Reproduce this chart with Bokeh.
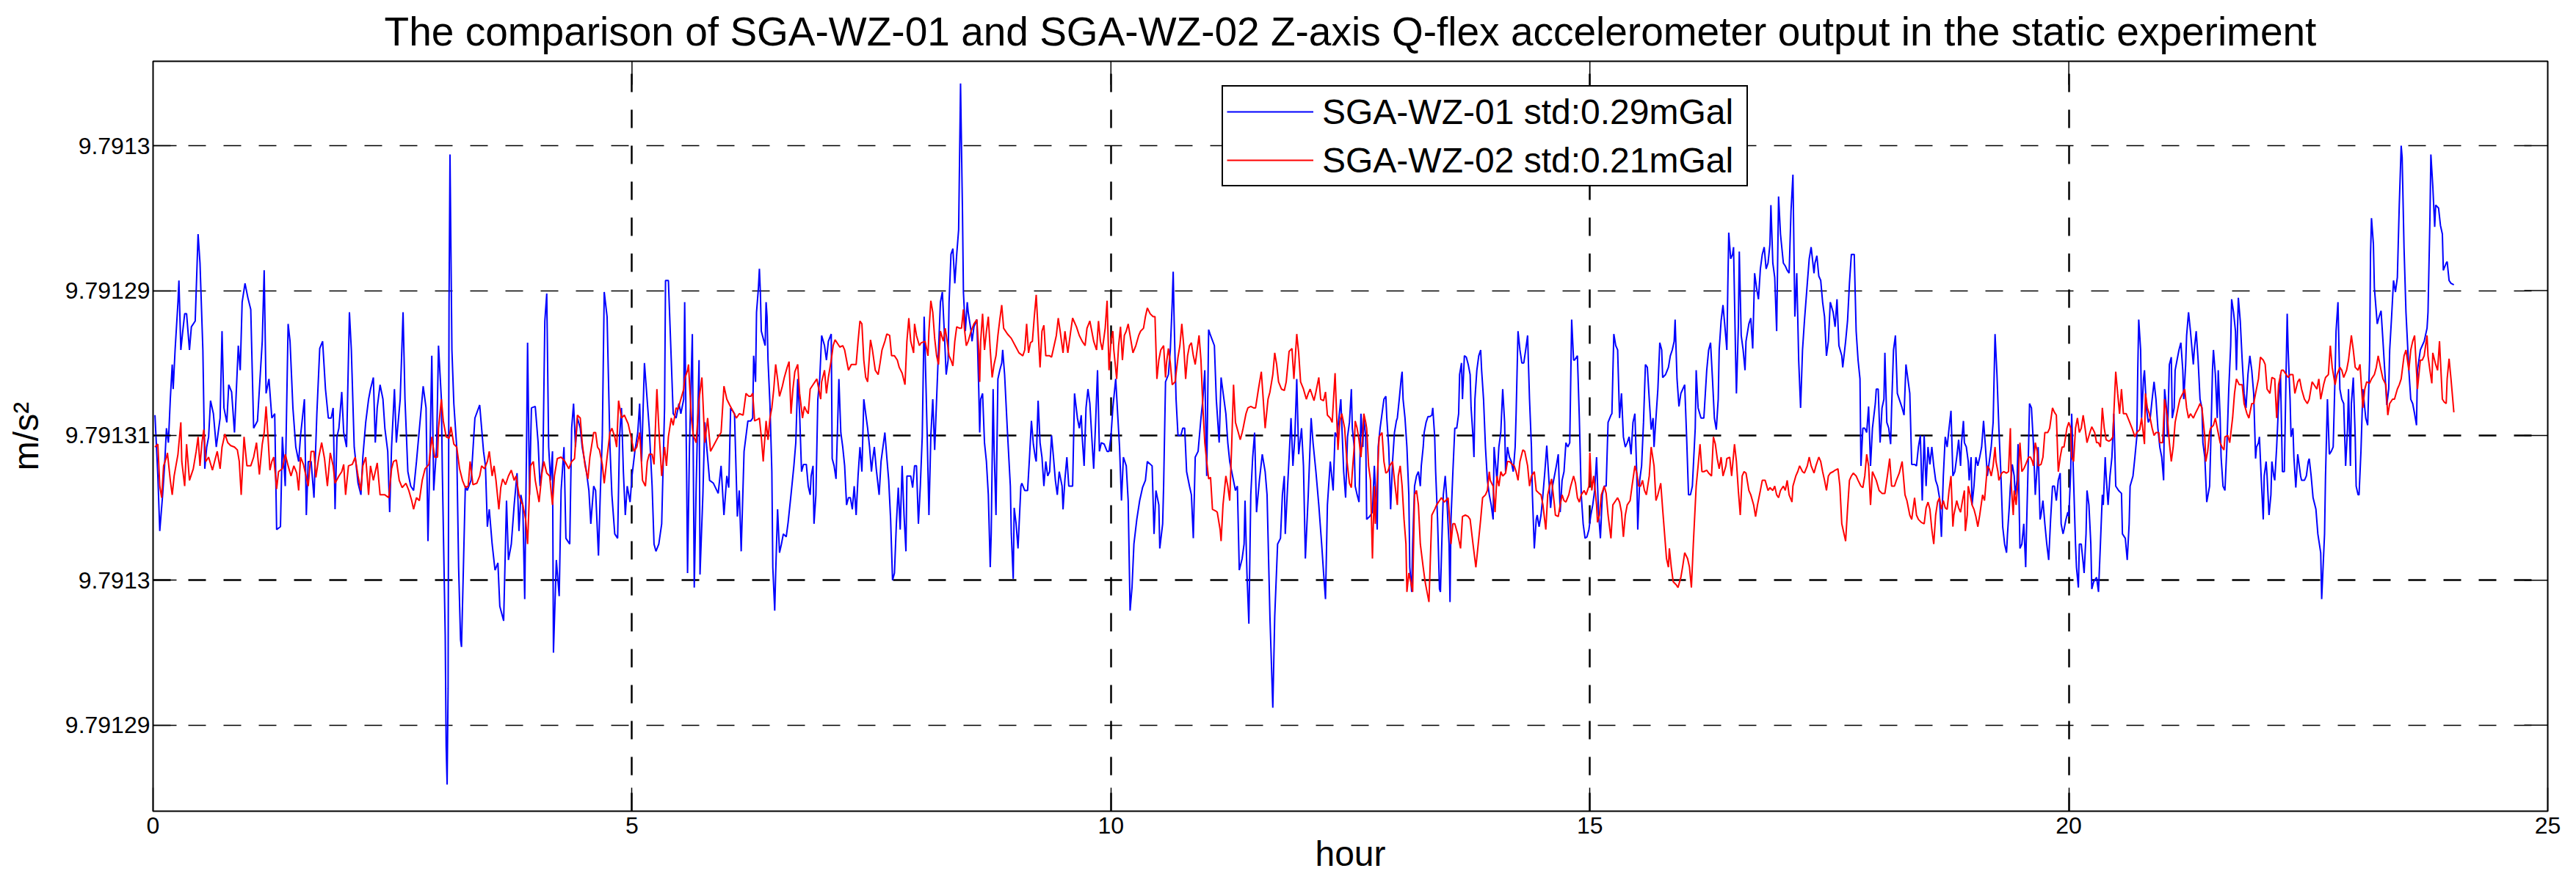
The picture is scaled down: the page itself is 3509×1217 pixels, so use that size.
import numpy as np
from bokeh.plotting import figure
from bokeh.models import Range1d, FixedTicker, Grid, Legend, LegendItem
from bokeh.embed import file_html
from bokeh.resources import INLINE

TITLE = "The comparison of SGA-WZ-01 and SGA-WZ-02 Z-axis Q-flex accelerometer output in the static experiment"
X_LABEL = "hour"
Y_LABEL = "m/s\u00b2"
SERIES_NAMES = ["SGA-WZ-01 std:0.29mGal", "SGA-WZ-02 std:0.21mGal"]
X_TICKS = [0, 5, 10, 15, 20, 25]
X_TICK_LABELS = ["0", "5", "10", "15", "20", "25"]
Y_TICKS = [-2, -1, 0, 1, 2]
Y_TICK_LABELS = ["9.79129", "9.7913", "9.79131", "9.79129", "9.7913"]
X_MIN, X_MAX = 0, 25
Y_MIN, Y_MAX = -2.594, 2.583

# Values: (time in 1/100 hour, deviation in 1/100 of one y-grid step)
blue_a = [(2,14),(5,-28),(7,-66),(10,-41),(12,-21),(14,5),(16,-5),(18,25),(20,49),(21,32),(23,59),(26,92),(27,107),(29,59),(31,72),(33,84),(35,84),(38,59),(40,75),(44,79),(47,139),(49,119),(52,59),(54,-23),(56,-8),(58,-1),(60,24),(63,15),(66,-8),(68,2),(70,12),(72,72),(74,19),(77,9),(79,35),(82,30),(85,2),(87,32),(89,62),(91,45),(93,92),(96,105),(99,95),(102,87),(105,5),(109,10),(111,32),(114,65),(116,114),(118,29),(121,39),(124,12),(127,15),(129,-65),(133,-63),(135,-1),(138,-35),(141,77),(143,65),(146,19),(149,-8),(152,-18),(154,0),(158,25),(160,-55),(162,-18),(165,-18),(168,-43),(171,15),(174,60),(177,65),(180,32),(183,12),(186,12),(188,19),(190,-51),(192,-1),(194,5),(197,30),(199,2),(202,-8),(205,85),(207,59),(210,-8),(214,-33),(217,-41),(219,-15),(222,9),(225,25),(227,32),(230,40),(232,-5),(234,19),(237,35),(240,25),(242,5),(245,-11),(247,-53),(249,-8),(252,32),(254,-5),(258,25),(261,85),(263,25),(266,-25),(269,-35),(272,-38),(275,-18),(280,19),(282,34),(285,19),(287,-73),(289,-15),(291,55),(293,-38),(296,-8),(298,62),(301,25),(302,-25),(305,-138),(306,-215),(307,-241),(308,-175),(309,92),(310,194),(312,59),(314,22),(317,-8),(319,-91),(321,-141),(322,-146),(324,-91),(326,-35),(328,-38),(332,-31),(336,12),(341,21),(343,5),(345,-11),(347,-21),(349,-63),(351,-51),(354,-75),(357,-93),(360,-88),(362,-118),(366,-128),(369,-45),(371,-86),(374,-75),(377,-48),(380,-26),(382,-66),(384,-41),(386,-48),(388,-113),(390,-1),(391,64),(393,-41),(395,19),(399,20),(402,-5),(404,-35),(407,-18),(409,79),(411,98),(413,-8),(415,-31),(417,-11),(418,-150),(421,-86),(424,-111),(426,-38),(429,-8),(431,-71),(435,-75),(437,5),(439,22),(441,-8),(443,12),(446,5),(448,-8),(452,-23),(455,-38),(457,-61),(460,-35),(462,-38),(465,-83),(467,-38),(469,-1),(471,99),(474,82),(477,-8),(479,-41),(482,-68),(485,-71),(487,-1),(489,19),(491,-25),(493,-55),(495,-35),(498,-46),(500,-28),(503,-11),(506,2),(508,22),(510,-18),(513,50),(515,32),(518,5),(521,-35),(523,-75),(525,-80),(528,-75),(531,-61),(534,19),(535,107),(538,107),(541,52),(543,15),(546,12),(549,22),(551,15),(554,25),(555,92),(557,-25),(558,-95),(560,-8),(562,45),(563,70),(565,-105),(567,-35),(570,52),(571,-96),(574,-41),(576,9),(578,-8),(581,-31),(585,-33),(590,-40),(593,-21),(596,-55),(599,-28),(601,-36),(603,19),(607,15),(610,-56),(612,-38),(614,-80),(617,-11),(621,10)]
blue_b = [(624,10),(626,12),(627,55),(629,37),(630,85),(632,102),(633,115),(634,99),(635,72),(637,67),(639,62),(640,92),(641,82),(642,52),(644,22),(646,-25),(647,-91),(649,-121),(650,-95),(652,-51),(654,-81),(656,-75),(658,-68),(661,-70),(663,-60),(666,-41),(669,-21),(671,-5),(673,39),(675,15),(677,-25),(679,-20),(682,-20),(684,-35),(686,-41),(687,-28),(689,-21),(690,-61),(692,-41),(694,25),(696,39),(698,69),(701,62),(703,52),(705,65),(708,70),(709,-16),(711,-21),(713,-30),(714,-8),(716,39),(718,2),(720,-8),(722,-21),(724,-48),(726,-43),(728,-43),(730,-51),(732,-35),(734,-55),(736,-28),(738,-8),(740,-25),(742,25),(744,15),(746,5),(748,-8),(750,-25),(751,-18),(753,-8),(755,-23),(758,-41),(760,-18),(762,-8),(764,2),(766,-15),(768,-31),(770,-58),(772,-100),(774,-95),(776,-61),(778,-36),(780,-65),(782,-21),(784,-55),(786,-80),(787,-28),(791,-28),(793,-36),(795,-21),(797,-21),(799,-61),(801,-35),(803,-1),(805,82),(806,59),(808,5),(810,-55),(812,0),(814,25),(816,-10),(818,25),(820,59),(822,92),(824,99),(826,72),(828,42),(830,52),(831,92),(833,125),(835,129),(837,105),(839,125),(841,142),(842,192),(843,243),(845,155),(846,99),(848,72),(850,92),(851,85),(854,72),(855,65),(857,75),(860,80),(862,32),(863,2),(864,25),(866,29),(868,-5),(870,-18),(872,-41),(874,-91),(875,-68),(877,32),(878,-8),(880,-55),(882,39),(884,45),(886,50),(887,59),(889,42),(892,2),(895,-35),(896,-68),(898,-99),(899,-50),(901,-61),(903,-78),(906,-35),(907,-33),(910,-38),(913,-38),(915,-15),(917,10),(919,-6),(921,-15),(922,-18),(924,24),(926,-5),(928,-15),(930,-35),(932,-18),(934,-28),(936,-25),(938,0),(940,-15),(942,-31),(944,-41),(946,-25),(949,-35),(950,-51),(952,-30),(954,-15),(956,-35),(960,-35),(962,29),(965,12),(967,5),(969,14),(970,-1),(972,-21),(974,19),(976,32),(978,22),(980,-1),(982,-23),(984,9),(986,45),(988,-11),(990,-5),(993,-6),(996,-11),(998,-11),(1000,-1),(1002,19),(1005,39),(1007,15),(1009,-8),(1011,-45),(1013,-15),(1016,-21),(1018,-45),(1020,-121),(1022,-105),(1024,-75),(1027,-58),(1030,-45),(1033,-36),(1036,-31),(1038,-18),(1043,-21),(1045,-68),(1047,-38),(1050,-48),(1051,-78),(1054,-61),(1055,-35),(1057,37),(1060,42),(1062,59),(1064,92),(1065,113),(1066,79),(1068,25),(1070,0),(1073,0),(1075,5),(1077,5),(1079,-25),(1082,-35),(1084,-41),(1086,-71),(1088,-15),(1091,-11),(1094,12),(1096,25),(1098,45),(1100,-28),(1102,73),(1104,69),(1108,62),(1110,25),(1113,-5),(1115,40),(1118,25),(1120,15),(1122,-5),(1124,-18),(1127,-28),(1130,-38),(1132,-35),(1134,-93),(1137,-85),(1139,-75),(1140,-45),(1142,-95),(1144,-130),(1146,-41),(1148,-15),(1150,2),(1152,-53),(1155,-31),(1158,-13),(1161,-25),(1163,-41),(1166,-125),(1169,-188),(1171,-125),(1174,-75),(1177,-71),(1179,-41),(1181,-28),(1182,-68),(1184,-41),(1186,-15),(1188,12),(1190,-21),(1192,-1),(1194,39),(1196,-13),(1199,5),(1201,-21),(1203,-85),(1206,-41),(1209,12),(1211,-5),(1214,-25),(1217,-48),(1220,-75),(1222,-95),(1224,-113),(1226,-48),(1229,-18),(1232,-38),(1234,2),(1236,-1),(1240,25),(1243,-25),(1245,-43),(1247,-1)]
blue_c = [(1249,9),(1251,32),(1252,5),(1254,-8),(1255,-35),(1257,-41),(1259,-46),(1261,15),(1263,-8),(1264,12),(1266,-1),(1267,-58),(1270,-56),(1271,-55),(1273,-53),(1275,-21),(1276,-35),(1278,-65),(1279,-8),(1281,5),(1283,15),(1285,25),(1287,27),(1288,12),(1290,-8),(1291,-28),(1292,-51),(1294,-18),(1296,2),(1298,10),(1299,12),(1301,25),(1303,39),(1304,44),(1305,25),(1307,12),(1309,-8),(1311,-41),(1312,-91),(1314,-108),(1315,-75),(1317,-35),(1319,-28),(1321,-25),(1323,-35),(1324,-21),(1326,-8),(1327,2),(1329,9),(1331,13),(1333,13),(1335,14),(1336,19),(1338,-1),(1339,-25),(1341,-58),(1343,-106),(1344,-108),(1346,-61),(1347,-41),(1349,-28),(1351,-48),(1353,-75),(1354,-115),(1355,-58),(1357,-25),(1359,5),(1361,5),(1363,15),(1364,42),(1366,50),(1367,25),(1369,55),(1371,54),(1373,49),(1375,42),(1376,19),(1378,-1),(1379,-15),(1380,25),(1382,45),(1384,55),(1386,59),(1387,45),(1389,25),(1391,-8),(1393,-31),(1395,-41),(1397,-48),(1399,-58),(1400,-8),(1403,-31),(1405,-8),(1407,2),(1409,32),(1411,9),(1412,-25),(1414,-8),(1416,-15),(1418,-18),(1420,-25),(1422,-8),(1423,15),(1425,72),(1427,59),(1429,50),(1431,50),(1433,59),(1435,69),(1437,25),(1439,-8),(1440,-41),(1442,-78),(1444,-58),(1445,-55),(1447,-63),(1449,-55),(1451,-41),(1453,-25),(1455,-7),(1457,-28),(1459,-50),(1461,-35),(1463,-28),(1465,-21),(1467,-13),(1469,-53),(1471,-31),(1473,-25),(1475,-5),(1477,-8),(1479,-5),(1481,80),(1483,52),(1484,52),(1487,55),(1489,12),(1491,-41),(1493,-61),(1495,-71),(1497,-70),(1499,-65),(1501,-55),(1503,-48),(1505,-38),(1507,-15),(1509,-53),(1511,-71),(1513,-41),(1515,-35),(1517,-35),(1519,9),(1522,14),(1523,15),(1525,70),(1527,62),(1529,59),(1531,12),(1533,29),(1535,-1),(1537,-8),(1539,-5),(1541,-1),(1543,-13),(1545,9),(1547,15),(1549,-28),(1550,-65),(1552,-31),(1554,-21),(1556,9),(1558,49),(1560,47),(1562,25),(1564,4),(1566,12),(1567,-8),(1569,12),(1571,32),(1573,64),(1575,59),(1576,40),(1579,42),(1582,47),(1584,55),(1586,59),(1588,65),(1589,80),(1591,39),(1593,20),(1595,29),(1597,32),(1599,35),(1601,-1),(1603,-41),(1605,-41),(1607,-35),(1610,5),(1611,45),(1613,19),(1616,12),(1619,12),(1622,45),(1624,59),(1626,64),(1628,39),(1630,12),(1632,4),(1634,25),(1635,59),(1637,79),(1639,90),(1641,75),(1643,59),(1644,102),(1645,140),(1647,122),(1649,125),(1650,130),(1652,59),(1653,29),(1655,75),(1656,127),(1658,69),(1660,59),(1662,45),(1663,65),(1666,77),(1668,81),(1670,60),(1672,112),(1674,102),(1676,94),(1678,115),(1680,125),(1682,130),(1684,115),(1686,119),(1688,132),(1689,159),(1691,119),(1693,109),(1695,72),(1697,165),(1699,139),(1702,119),(1704,117),(1706,114),(1708,112),(1710,155),(1712,180),(1714,82),(1716,112),(1718,52),(1720,19),(1722,59),(1724,79),(1727,105),(1729,122),(1731,130),(1734,112),(1735,119),(1737,124),(1739,110),(1741,107),(1743,92),(1745,82),(1747,55),(1749,65),(1751,92),(1754,85),(1756,75),(1758,94),(1760,62),(1763,55),(1764,47),(1767,65),(1769,79),(1771,105),(1773,125),(1776,125),(1778,72),(1780,52),(1782,39),(1783,-21),(1785,5),(1787,5),(1789,2),(1791,20),(1793,-21),(1795,5),(1798,22),(1799,32),(1801,32),(1803,-5),(1805,19),(1807,25),(1808,57),(1810,9),(1812,5),(1814,-6),(1815,19),(1817,59),(1819,69),(1821,29),(1823,25),(1826,19),(1828,14),(1830,49),(1832,39),(1834,29),(1836,-20),(1839,-20),(1841,-21),(1843,-8),(1845,0),(1847,-45),(1849,0),(1851,-35),(1853,-8),(1855,-20),(1857,-8),(1859,-21),(1861,-31),(1863,-35),(1865,-43),(1867,-70),(1869,-28),(1871,-1)]
blue_d = [(1873,-8),(1875,5),(1877,17),(1879,-28),(1881,-25),(1883,-15),(1885,-3),(1887,-21),(1888,-5),(1890,10),(1891,-5),(1893,-8),(1895,-18),(1896,-31),(1898,-15),(1899,-48),(1901,-35),(1903,-15),(1905,-21),(1907,-15),(1909,-8),(1911,10),(1913,-8),(1915,-28),(1917,-18),(1919,-8),(1921,9),(1923,70),(1925,42),(1927,5),(1929,-25),(1931,-63),(1933,-75),(1935,-81),(1936,-68),(1938,-48),(1939,-35),(1941,-20),(1943,-28),(1944,-41),(1946,-31),(1947,-6),(1949,-78),(1951,-75),(1953,-61),(1955,-91),(1956,-61),(1958,-8),(1959,22),(1961,19),(1963,-5),(1965,-41),(1967,-21),(1968,-8),(1970,-58),(1971,-55),(1973,-45),(1975,-61),(1977,-75),(1979,-86),(1981,-58),(1983,-35),(1985,-35),(1987,-45),(1989,-31),(1991,-26),(1992,-61),(1994,-68),(1995,-65),(1997,-58),(1999,-53),(2000,-56),(2002,-25),(2003,15),(2005,-31),(2007,-75),(2008,-91),(2010,-105),(2011,-75),(2013,-75),(2015,-88),(2016,-95),(2018,-68),(2019,-38),(2021,-48),(2023,-75),(2024,-106),(2026,-101),(2027,-100),(2029,-98),(2031,-108),(2033,-75),(2035,-41),(2036,-48),(2038,-15),(2039,-28),(2041,-48),(2043,-28),(2045,-15),(2047,15),(2049,-35),(2052,-38),(2055,-40),(2056,-68),(2059,-71),(2061,-86),(2063,-61),(2064,-35),(2067,-28),(2069,-15),(2071,-1),(2072,45),(2073,80),(2075,59),(2076,12),(2078,39),(2079,45),(2081,19),(2083,9),(2085,12),(2087,25),(2089,37),(2091,25),(2093,5),(2095,-8),(2097,-15),(2099,-31),(2100,32),(2102,19),(2103,-1),(2105,49),(2107,54),(2108,12),(2110,19),(2111,45),(2113,52),(2115,59),(2117,64),(2119,45),(2120,25),(2122,49),(2123,69),(2125,85),(2127,72),(2130,49),(2131,59),(2133,72),(2135,52),(2137,25),(2139,19),(2140,-5),(2142,-15),(2144,-46),(2147,-35),(2148,-11),(2150,45),(2151,59),(2153,42),(2155,12),(2156,45),(2158,12),(2159,-15),(2161,-35),(2163,-38),(2165,-8),(2167,32),(2169,62),(2170,94),(2172,85),(2174,72),(2175,45),(2177,95),(2179,79),(2181,52),(2183,29),(2185,19),(2187,42),(2189,55),(2191,45),(2193,29),(2195,-16),(2196,-8),(2198,-5),(2199,-1),(2201,-31),(2203,-58),(2204,-28),(2206,-18),(2207,-28),(2209,-55),(2211,-41),(2212,-18),(2214,-28),(2215,-31),(2217,-8),(2219,22),(2221,42),(2223,-25),(2225,-25),(2227,49),(2228,84),(2229,59),(2231,25),(2232,-1),(2234,5),(2235,-15),(2237,-36),(2239,-13),(2240,-18),(2242,-28),(2243,-31),(2246,-31),(2248,-28),(2250,-18),(2251,-16),(2253,-28),(2255,-43),(2258,-51),(2260,-68),(2263,-81),(2264,-113),(2267,-68),(2268,-28),(2270,25),(2272,-13),(2274,-11),(2276,-8),(2278,42),(2279,72),(2281,92),(2283,32),(2285,25),(2287,22),(2289,-21),(2291,5),(2292,32),(2294,-21),(2295,22),(2297,40),(2299,-1),(2300,-35),(2302,-41),(2303,-41),(2305,-11),(2307,32),(2310,12),(2312,7),(2314,52),(2315,125),(2316,150),(2318,132),(2319,102),(2322,77),(2324,82),(2326,86),(2328,65),(2331,32),(2332,21),(2334,32),(2335,59),(2337,82),(2339,107),(2341,99),(2343,109),(2345,159),(2347,200),(2348,192),(2350,129),(2352,85),(2355,45),(2357,25),(2359,22),(2361,15),(2363,7),(2364,45),(2367,59),(2369,62),(2371,65),(2374,74),(2375,85),(2377,149),(2378,194),(2380,172),(2382,144),(2383,159),(2386,157),(2388,145),(2390,139),(2391,114),(2394,119),(2395,120),(2397,107),(2399,105),(2402,104)]

red_a = [(2,-8),(5,-6),(7,-35),(9,-43),(11,-21),(14,-15),(15,-12),(18,-31),(20,-41),(22,-28),(26,-13),(29,9),(30,-18),(33,-35),(35,-6),(38,-31),(42,-23),(45,-11),(47,-1),(49,-21),(51,-5),(53,4),(55,-18),(58,-15),(62,-24),(65,-16),(67,-11),(70,-23),(72,-8),(75,1),(78,-5),(81,-7),(85,-8),(88,-10),(90,-18),(92,-41),(95,-1),(98,-21),(102,-21),(105,-15),(108,-5),(111,-27),(114,-6),(116,2),(118,20),(120,-1),(122,-24),(124,-18),(126,-15),(129,-37),(131,-25),(135,-23),(138,-13),(141,-21),(144,-28),(147,-21),(150,-26),(152,-38),(154,-15),(157,-20),(159,-26),(162,-35),(165,-11),(168,-11),(170,-29),(173,-15),(176,-5),(179,-16),(182,-35),(185,-12),(188,-21),(190,-33),(194,-28),(197,-25),(199,-20),(201,-41),(204,-21),(208,-20),(211,-15),(214,-28),(217,-38),(219,-21),(222,-15),(225,-41),(227,-21),(230,-31),(234,-19),(237,-41),(242,-41),(246,-43),(249,-23),(251,-18),(254,-17),(257,-31),(260,-36),(264,-33),(267,-38),(270,-45),(272,-51),(275,-43),(278,-45),(281,-31),(284,-23),(288,-20),(291,-1),(294,-15),(297,-15),(298,5),(301,25),(303,10),(306,-1),(309,-2),(311,6),(314,-6),(317,-8),(320,-23),(323,-31),(326,-36),(329,-35),(331,-18),(334,-34),(338,-33),(341,-28),(343,-21),(346,-23),(349,-18),(351,-11),(354,-28),(356,-21),(358,-31),(361,-51),(363,-36),(365,-30),(368,-34),(371,-28),(374,-24),(377,-31),(379,-28),(382,-41),(384,-45),(386,-48),(389,-58),(391,-75),(394,-21),(397,-18),(399,-31),(403,-46),(406,-26),(408,-18),(411,-26),(414,-28),(417,-48),(419,-28),(422,-16),(426,-15),(430,-18),(434,-23),(437,-18),(440,-16),(443,14),(446,12),(448,-5),(451,-21),(454,-30),(456,-15),(460,2),(462,2),(464,-8),(466,-10),(469,-20),(471,-33),(474,-15),(477,2),(479,5),(482,-1),(484,-8),(486,24),(489,12),(492,14),(496,8),(499,-1),(502,-11),(505,-8),(508,2),(511,-31),(514,-35),(516,-18),(518,-13),(521,-13),(523,-20),(526,32),(528,5),(531,-28),(534,-8),(536,-21),(538,-1),(541,12),(543,7),(546,19),(548,18),(551,25),(554,32),(555,39),(558,45),(559,49),(562,12),(564,0),(567,-5),(570,25),(573,40),(576,-5),(579,12),(582,-11),(586,-6),(590,-1),(593,2),(596,34),(599,25),(602,21),(606,16),(609,12),(612,15),(616,14),(619,29),(622,27)]
red_b = [(624,27),(626,29),(628,10),(631,11),(633,12),(635,-1),(637,-18),(638,-8),(640,10),(642,-3),(644,12),(646,19),(648,32),(650,49),(652,39),(654,27),(657,34),(659,40),(662,47),(664,51),(666,15),(668,32),(670,44),(673,49),(675,29),(678,12),(680,20),(682,17),(684,15),(686,32),(689,35),(691,37),(693,39),(695,32),(697,25),(698,37),(701,45),(703,29),(705,40),(708,52),(710,62),(712,66),(714,64),(717,61),(720,62),(722,59),(724,52),(726,45),(729,49),(732,49),(734,49),(736,65),(738,79),(740,77),(742,52),(744,40),(746,37),(749,66),(751,59),(754,45),(757,42),(759,50),(761,59),(764,65),(766,70),(769,69),(771,55),(774,55),(777,52),(779,47),(782,43),(785,35),(787,65),(789,81),(791,65),(794,57),(795,77),(797,69),(800,62),(802,64),(806,65),(809,55),(810,72),(812,93),(814,85),(816,67),(818,55),(820,49),(822,72),(825,65),(827,74),(829,65),(831,55),(833,52),(835,48),(837,65),(839,75),(842,74),(844,74),(846,87),(847,74),(849,62),(851,65),(854,72),(857,77),(860,80),(862,59),(863,37),(864,65),(866,84),(868,59),(870,72),(872,82),(874,59),(876,40),(878,49),(880,55),(882,69),(884,80),(886,90),(888,74),(892,70),(896,67),(900,62),(904,57),(908,55),(910,59),(912,77),(914,57),(916,64),(918,65),(920,82),(922,97),(924,72),(926,47),(928,72),(930,76),(932,55),(936,55),(938,54),(940,60),(943,69),(945,81),(947,72),(950,57),(952,72),(954,62),(955,57),(958,72),(960,81),(964,75),(967,69),(970,65),(973,62),(975,74),(978,79),(980,72),(982,65),(985,59),(987,79),(989,65),(991,59),(994,74),(996,93),(998,45),(1000,65),(1002,72),(1003,59),(1006,39),(1008,62),(1010,75),(1012,52),(1014,69),(1016,72),(1018,77),(1020,69),(1023,57),(1026,62),(1029,69),(1031,72),(1034,74),(1036,82),(1038,88),(1041,84),(1044,82),(1046,82),(1048,39),(1050,52),(1052,59),(1055,62),(1057,40),(1058,50),(1060,60),(1062,50),(1064,35),(1067,37),(1070,54),(1072,62),(1074,77),(1076,62),(1078,39),(1080,55),(1082,62),(1084,64),(1086,55),(1088,49),(1090,59),(1092,69),(1094,52),(1096,19),(1098,-5),(1100,-18),(1102,-30),(1104,-29),(1106,-51),(1109,-52),(1111,-53),(1114,-65),(1115,-73),(1117,-48),(1120,-28),(1122,-35),(1124,-45),(1126,-8),(1128,35),(1130,9),(1133,2),(1135,-3),(1137,2),(1138,5),(1141,15),(1143,19),(1146,20),(1149,19),(1151,19),(1154,32),(1157,44),(1159,25),(1161,5),(1164,25),(1166,30),(1169,42),(1171,57),(1173,49),(1175,37),(1178,32),(1181,31),(1183,37),(1186,58),(1189,60),(1191,39),(1194,70),(1196,57),(1198,37),(1201,32),(1204,25),(1206,29),(1208,32),(1210,28),(1212,24),(1214,30),(1217,40),(1219,25),(1222,24),(1224,30),(1226,14),(1229,12),(1231,9),(1234,43),(1237,-10),(1239,10),(1241,15),(1244,5),(1246,-15)]
red_c = [(1249,-33),(1251,-36),(1252,-25),(1254,-8),(1255,10),(1257,5),(1259,-3),(1261,-15),(1263,2),(1264,15),(1266,9),(1267,5),(1269,-21),(1271,-31),(1273,-85),(1275,-35),(1276,-61),(1278,-31),(1280,-1),(1283,2),(1285,-18),(1287,-26),(1289,-25),(1291,-21),(1294,-18),(1296,-31),(1299,-48),(1300,-28),(1302,-21),(1304,-35),(1306,-58),(1308,-75),(1309,-108),(1311,-95),(1313,-101),(1315,-108),(1317,-41),(1319,-38),(1321,-48),(1323,-75),(1326,-91),(1328,-101),(1330,-108),(1332,-115),(1334,-75),(1335,-55),(1338,-51),(1340,-48),(1343,-45),(1345,-43),(1348,-46),(1351,-44),(1352,-43),(1354,-61),(1355,-75),(1357,-61),(1359,-61),(1362,-68),(1365,-78),(1367,-56),(1370,-55),(1373,-56),(1375,-58),(1378,-75),(1381,-91),(1383,-78),(1386,-58),(1388,-43),(1391,-41),(1393,-38),(1395,-25),(1396,-31),(1399,-35),(1401,-53),(1403,-28),(1405,-35),(1407,-25),(1409,-28),(1412,-26),(1414,-18),(1416,-18),(1419,-20),(1421,-21),(1423,-25),(1425,-31),(1427,-18),(1430,-10),(1432,-11),(1435,-21),(1437,-35),(1439,-28),(1442,-25),(1444,-38),(1447,-40),(1449,-41),(1451,-48),(1454,-65),(1456,-41),(1458,-35),(1460,-30),(1463,-48),(1464,-55),(1467,-56),(1469,-48),(1471,-41),(1473,-45),(1475,-46),(1478,-41),(1480,-35),(1483,-28),(1485,-33),(1487,-43),(1489,-46),(1491,-41),(1494,-38),(1496,-41),(1499,-35),(1500,-12),(1502,-38),(1504,-28),(1507,-48),(1508,-60),(1510,-55),(1512,-41),(1515,-35),(1517,-40),(1519,-55),(1522,-71),(1524,-48),(1527,-45),(1529,-43),(1531,-46),(1533,-53),(1535,-70),(1537,-55),(1539,-48),(1542,-45),(1544,-35),(1547,-21),(1549,-26),(1551,-35),(1553,-35),(1555,-31),(1557,-38),(1559,-41),(1562,-28),(1564,-8),(1567,-21),(1569,-45),(1571,-41),(1574,-33),(1576,-51),(1578,-68),(1580,-85),(1582,-91),(1583,-78),(1585,-91),(1587,-101),(1590,-103),(1592,-105),(1595,-98),(1597,-90),(1599,-81),(1602,-85),(1604,-91),(1606,-105),(1608,-75),(1611,-35),(1613,-21),(1615,-6),(1617,-25),(1619,-25),(1622,-24),(1624,-26),(1627,-28),(1629,-1),(1631,-6),(1633,-16),(1635,-23),(1637,-15),(1639,-28),(1642,-21),(1643,-16),(1646,-15),(1648,-28),(1651,-6),(1653,-18),(1655,-38),(1657,-55),(1659,-28),(1661,-25),(1663,-26),(1666,-38),(1668,-41),(1671,-48),(1673,-56),(1675,-48),(1678,-38),(1680,-31),(1683,-31),(1686,-38),(1688,-36),(1691,-38),(1693,-35),(1695,-41),(1697,-43),(1699,-38),(1702,-35),(1704,-38),(1706,-31),(1708,-41),(1711,-46),(1712,-35),(1715,-28),(1717,-25),(1719,-21),(1722,-25),(1724,-26),(1727,-21),(1729,-15),(1731,-21),(1734,-26),(1736,-21),(1739,-15),(1741,-18),(1743,-25),(1745,-31),(1747,-38),(1749,-28),(1751,-26),(1754,-25),(1756,-24),(1759,-23),(1761,-35),(1763,-61),(1767,-73),(1769,-51),(1771,-31),(1773,-28),(1775,-26),(1778,-28),(1780,-31),(1783,-35),(1785,-36),(1787,-28),(1789,-13),(1791,-21),(1793,-48),(1795,-25),(1797,-28),(1799,-31),(1802,-38),(1805,-40),(1808,-40),(1811,-26),(1813,-16),(1815,-35),(1818,-35),(1820,-31),(1823,-26),(1826,-18),(1829,-41),(1831,-45),(1834,-55),(1836,-58),(1839,-43),(1841,-55),(1843,-58),(1846,-60),(1849,-61),(1851,-50),(1853,-46),(1855,-51),(1857,-65),(1859,-75),(1861,-55),(1863,-46),(1865,-43),(1867,-51),(1869,-45),(1871,-50)]
red_d = [(1873,-51),(1875,-38),(1877,-28),(1879,-63),(1880,-55),(1883,-45),(1885,-50),(1887,-53),(1889,-45),(1891,-38),(1892,-66),(1894,-55),(1895,-35),(1897,-41),(1899,-48),(1901,-51),(1903,-56),(1905,-63),(1907,-55),(1910,-41),(1912,-45),(1915,-21),(1917,-23),(1919,-28),(1921,-21),(1923,-8),(1924,-18),(1926,-25),(1927,-31),(1930,-26),(1932,-25),(1935,-26),(1937,-25),(1939,5),(1940,-35),(1942,-55),(1943,-38),(1945,-48),(1947,-31),(1949,-5),(1951,-25),(1953,-23),(1955,-20),(1958,-15),(1960,-15),(1962,-18),(1963,-21),(1965,-5),(1967,-11),(1968,-21),(1971,-20),(1973,-15),(1975,2),(1978,2),(1980,5),(1983,19),(1985,16),(1987,14),(1989,-25),(1991,-15),(1993,-8),(1995,-8),(1998,5),(2000,9),(2002,5),(2003,-15),(2005,-18),(2007,5),(2009,12),(2011,2),(2013,5),(2015,14),(2017,5),(2019,-5),(2022,2),(2024,6),(2027,2),(2029,-5),(2031,-5),(2033,-8),(2035,19),(2037,5),(2039,-3),(2042,-4),(2044,-3),(2046,-1),(2047,15),(2049,44),(2051,29),(2053,15),(2055,32),(2057,15),(2060,15),(2063,10),(2066,5),(2069,-1),(2071,2),(2074,4),(2076,12),(2079,-6),(2080,29),(2082,19),(2084,15),(2087,5),(2089,0),(2091,2),(2094,2),(2095,-5),(2098,-5),(2100,25),(2103,12),(2105,-5),(2107,-18),(2109,-8),(2111,9),(2114,19),(2116,25),(2119,29),(2121,32),(2123,19),(2125,12),(2127,15),(2130,12),(2132,15),(2135,19),(2137,22),(2139,19),(2142,-1),(2143,-18),(2145,-11),(2147,2),(2148,5),(2151,7),(2153,12),(2155,5),(2158,-5),(2160,-8),(2162,-10),(2163,-1),(2166,0),(2168,-5),(2171,12),(2173,29),(2175,39),(2178,35),(2181,35),(2183,22),(2186,15),(2188,12),(2191,22),(2193,22),(2195,29),(2198,39),(2200,54),(2203,52),(2205,49),(2207,32),(2210,29),(2212,40),(2215,39),(2217,12),(2219,35),(2222,45),(2224,45),(2227,42),(2229,40),(2231,42),(2234,42),(2236,29),(2239,37),(2241,39),(2243,32),(2246,25),(2249,22),(2251,25),(2254,37),(2256,35),(2259,32),(2261,39),(2263,25),(2266,35),(2268,40),(2271,42),(2273,62),(2275,47),(2278,35),(2280,42),(2283,47),(2285,45),(2287,40),(2290,45),(2292,52),(2295,69),(2297,59),(2299,47),(2302,45),(2304,49),(2307,19),(2309,32),(2311,37),(2314,36),(2316,39),(2319,42),(2321,47),(2323,55),(2326,45),(2328,39),(2331,35),(2333,14),(2335,22),(2338,25),(2340,25),(2343,32),(2345,35),(2347,39),(2350,55),(2352,59),(2355,45),(2357,59),(2359,65),(2361,69),(2364,32),(2367,52),(2369,52),(2371,55),(2374,69),(2375,55),(2377,45),(2379,36),(2380,57),(2383,49),(2385,45),(2387,65),(2390,25),(2392,23),(2394,22),(2395,39),(2397,53),(2399,39),(2402,16)]


def unpack(*segments):
    pts = [pt for seg in segments for pt in seg]
    x = np.array([pt[0] for pt in pts], dtype=float) / 100.0
    y = np.array([pt[1] for pt in pts], dtype=float) / 100.0
    return x, y


bx, by = unpack(blue_a, blue_b, blue_c, blue_d)
rx, ry = unpack(red_a, red_b, red_c, red_d)

FONT = "Liberation Sans"
W, H = 3493, 1201
BL, BR, BT, BB = 208, 23, 81, 96
FW, FH = W - BL - BR, H - BT - BB          # frame size in px
PX_X = (X_MAX - X_MIN) / FW                 # data units per px
PX_Y = (Y_MAX - Y_MIN) / FH
TICK = 32                                   # inward tick length, px

p = figure(width=W, height=H, output_backend="svg", toolbar_location=None,
           x_range=Range1d(X_MIN, X_MAX), y_range=Range1d(Y_MIN, Y_MAX),
           min_border_left=BL, min_border_right=BR, min_border_top=BT, min_border_bottom=BB)
p.background_fill_color = "white"
p.border_fill_color = "white"
p.outline_line_color = "black"
p.outline_line_width = 2
p.outline_line_alpha = 1

p.title.text = TITLE
p.title.text_font = FONT
p.title.text_font_size = "55px"
p.title.text_font_style = "normal"
p.title.text_color = "black"
p.title.align = "center"
p.title.standoff = 19

xax = p.xaxis[0]
xax.ticker = FixedTicker(ticks=X_TICKS, minor_ticks=[])
xax.major_label_overrides = {t: s for t, s in zip(X_TICKS, X_TICK_LABELS)}
yax = p.yaxis[0]
yax.ticker = FixedTicker(ticks=Y_TICKS, minor_ticks=[])
yax.major_label_overrides = {t: s for t, s in zip(Y_TICKS, Y_TICK_LABELS)}
xax.axis_label = X_LABEL
yax.axis_label = Y_LABEL
for ax in (xax, yax):
    ax.axis_line_color = None
    ax.major_tick_in = TICK
    ax.major_tick_out = 0
    ax.minor_tick_in = 0
    ax.minor_tick_out = 0
    ax.major_tick_line_color = "black"
    ax.major_tick_line_width = 1.5
    ax.major_label_text_font = FONT
    ax.major_label_text_font_size = "32px"
    ax.major_label_text_color = "black"
    ax.axis_label_text_font = FONT
    ax.axis_label_text_font_size = "48px"
    ax.axis_label_text_font_style = "normal"
    ax.axis_label_text_color = "black"
xax.major_label_standoff = 8
xax.axis_label_standoff = -2
yax.major_label_standoff = 4
yax.axis_label_standoff = 24

# ticks on the top and right edges of the box (MATLAB style)
top_x = [t for t in X_TICKS if X_MIN < t < X_MAX]
p.segment(x0=top_x, x1=top_x, y0=[Y_MAX] * len(top_x), y1=[Y_MAX - TICK * PX_Y] * len(top_x),
          line_color="black", line_width=1.5)
p.segment(x0=[X_MAX] * len(Y_TICKS), x1=[X_MAX - TICK * PX_X] * len(Y_TICKS), y0=Y_TICKS, y1=Y_TICKS,
          line_color="black", line_width=1.5)

p.xgrid.ticker = FixedTicker(ticks=top_x, minor_ticks=[])
p.xgrid.grid_line_color = "black"
p.xgrid.grid_line_width = 2.5
p.xgrid.grid_line_dash = "25 24"
p.xgrid.grid_line_alpha = 1
p.ygrid.ticker = FixedTicker(ticks=[-2, 1, 2], minor_ticks=[])
p.ygrid.grid_line_color = "black"
p.ygrid.grid_line_width = 1.3
p.ygrid.grid_line_dash = "24 24"
p.ygrid.grid_line_alpha = 1
thick = Grid(dimension=1, ticker=FixedTicker(ticks=[-1, 0], minor_ticks=[]),
             grid_line_color="black", grid_line_width=2.5, grid_line_dash="24 24")
p.add_layout(thick)

rb = p.line(bx, by, line_color="#0000FF", line_width=2)
rr = p.line(rx, ry, line_color="#FF0000", line_width=2)

legend = Legend(items=[LegendItem(label=SERIES_NAMES[0], renderers=[rb]),
                       LegendItem(label=SERIES_NAMES[1], renderers=[rr])],
                location=(1456, 851), orientation="vertical",
                label_text_font=FONT, label_text_font_size="48px", label_text_color="black",
                glyph_width=118, glyph_height=58, label_height=58, label_standoff=12,
                label_width=573, spacing=8, padding=5, margin=0,
                border_line_color="black", border_line_width=2, border_line_alpha=1,
                background_fill_color="white", background_fill_alpha=1)
p.add_layout(legend)

open("out.html", "w").write(file_html(p, INLINE))
